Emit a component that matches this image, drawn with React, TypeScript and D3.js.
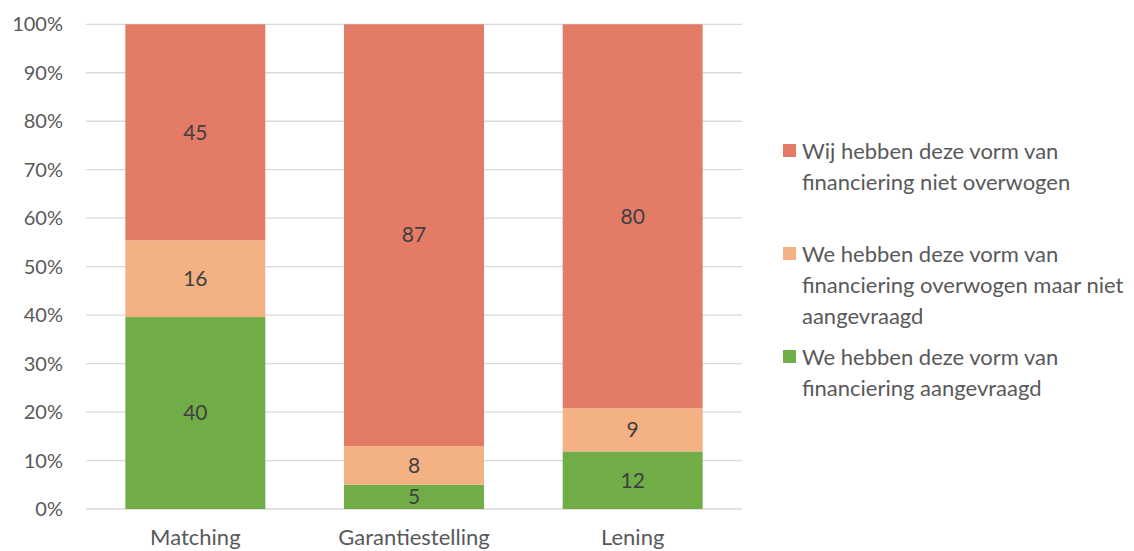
import React from "react";
import * as d3 from "d3";

const categories = ["Matching", "Garantiestelling", "Lening"];
const seriesNames = [
  "We hebben deze vorm van financiering aangevraagd",
  "We hebben deze vorm van financiering overwogen maar niet aangevraagd",
  "Wij hebben deze vorm van financiering niet overwogen",
];
const aangevraagd = [40, 5, 12];
const overwogenNiet = [16, 8, 9];
const nietOverwogen = [45, 87, 80];
const yTicks = [0, 0.1, 0.2, 0.3, 0.4, 0.5, 0.6, 0.7, 0.8, 0.9, 1];
const colors = ["#70AD47", "#F4B183", "#E47B66"];
const legendLines = [
  ["Wij hebben deze vorm van", "financiering niet overwogen"],
  ["We hebben deze vorm van", "financiering overwogen maar niet", "aangevraagd"],
  ["We hebben deze vorm van", "financiering aangevraagd"],
];

const W = 1134;
const H = 551;
const FONT = "Lato, 'Open Sans', sans-serif";

export default function App() {
  const rows = categories.map((c, i) => ({
    cat: c,
    s0: aangevraagd[i],
    s1: overwogenNiet[i],
    s2: nietOverwogen[i],
  }));
  const stack = d3
    .stack<any>()
    .keys(["s0", "s1", "s2"])
    .offset(d3.stackOffsetExpand);
  const layers = stack(rows);

  const x = d3.scaleBand().domain(categories).range([86, 742]).paddingInner(0.36).paddingOuter(0.18);
  const y = d3.scaleLinear().domain([0, 1]).range([509, 24.3]);

  const legendY = [151, 254, 357];

  return (
    <svg width={W} height={H} style={{ position: "absolute", left: 0, top: 0, background: "#fff" }} fontFamily={FONT}>
      {yTicks.map((t) => (
        <g key={t}>
          <line x1={86} x2={742} y1={y(t)} y2={y(t)} stroke="#D9D9D9" strokeWidth={1.3} />
          <text x={63} y={y(t)} dy="0.35em" textAnchor="end" fontSize={20} fill="#595959">
            {d3.format(".0%")(t)}
          </text>
        </g>
      ))}
      {layers.map((layer, li) =>
        layer.map((d, i) => {
          const x0 = x(categories[i])!;
          const y0 = y(d[1]);
          const y1 = y(d[0]);
          const v = (rows[i] as any)[layer.key];
          return (
            <g key={li + "-" + i}>
              <rect x={x0} y={y0} width={x.bandwidth()} height={y1 - y0} fill={colors[li]} />
              <text
                x={x0 + x.bandwidth() / 2}
                y={(y0 + y1) / 2}
                dy="0.35em"
                textAnchor="middle"
                fontSize={21}
                fill="#404040"
              >
                {v}
              </text>
            </g>
          );
        })
      )}
      {categories.map((c) => (
        <text key={c} x={x(c)! + x.bandwidth() / 2} y={545} textAnchor="middle" fontSize={22} fill="#595959">
          {c}
        </text>
      ))}
      {legendLines.map((lines, k) => (
        <g key={k}>
          <rect x={783} y={legendY[k] - 7} width={13} height={13} fill={colors[2 - k]} />
          {lines.map((ln, j) => (
            <text key={j} x={802} y={legendY[k] + j * 31} dy="0.35em" fontSize={22} fill="#595959">
              {ln}
            </text>
          ))}
        </g>
      ))}
    </svg>
  );
}
